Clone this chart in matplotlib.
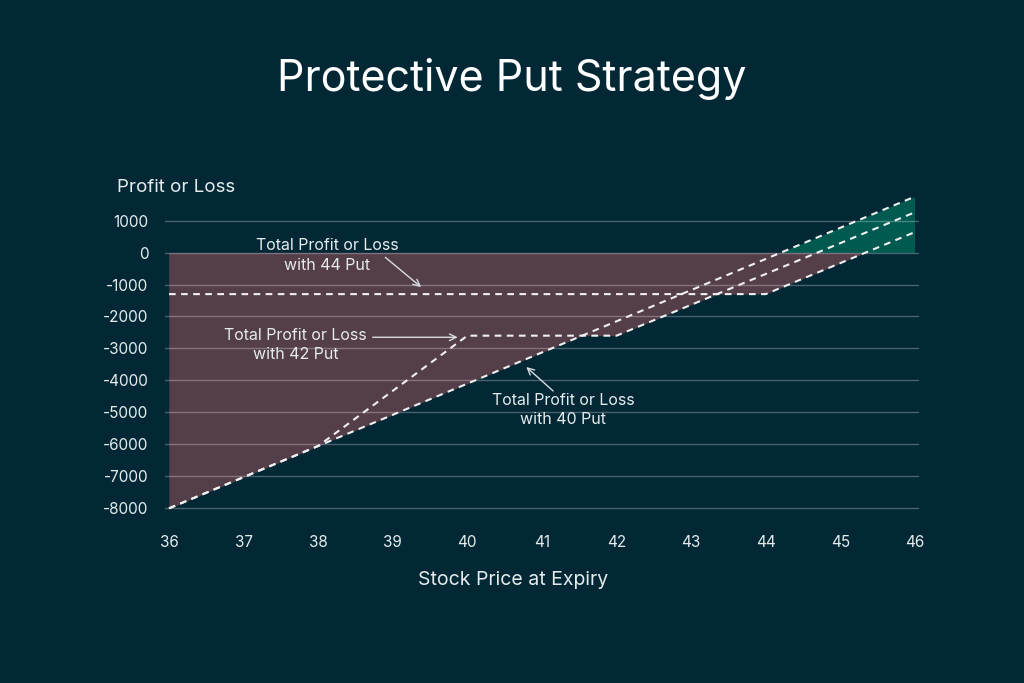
import matplotlib
matplotlib.use("Agg")
import numpy as np
import matplotlib.pyplot as plt

# stock price at expiry
x_40 = [36, 46]
y_40 = [-8000, 1750]
x_42 = [36, 38, 40, 42, 46]
y_42 = [-8000, -6050, -2600, -2600, 1260]
x_44 = [36, 44, 46]
y_44 = [-1300, -1300, 640]

xticks = list(range(36, 47))
yticks = list(range(-8000, 1001, 1000))

BG = "#022835"
LOSS = "#543e4a"
GAIN = "#005a50"
TXT = "#e6ecee"

plt.rcParams["font.family"] = ["Inter", "DejaVu Sans"]
plt.rcParams["axes.unicode_minus"] = False

fig = plt.figure(figsize=(10.24, 6.83), dpi=100, facecolor=BG)
ax = fig.add_axes([0.1614, 0.2534, 0.7357, 0.4611], facecolor=BG)

series = [(x_40, y_40), (x_42, y_42), (x_44, y_44)]
for xs, ys in series:
    xs = np.array(xs, dtype=float)
    ys = np.array(ys, dtype=float)
    ax.fill_between(xs, ys, 0, where=ys <= 0, interpolate=True,
                    color=LOSS, linewidth=0, zorder=1)
    ax.fill_between(xs, 0, ys, where=ys >= 0, interpolate=True,
                    color=GAIN, linewidth=0, zorder=1)

for xs, ys in series:
    ax.plot(xs, ys, color="#f0f0f0", lw=1.5, ls=(0, (3.2, 2.6)), zorder=3)

ax.set_xlim(35.95, 46.05)
ax.set_ylim(-8050, 1800)
ax.set_xticks(xticks)
ax.set_yticks(yticks)
ax.set_axisbelow(False)
ax.grid(axis="y", color="white", alpha=0.28, lw=1.0)
ax.grid(axis="x", visible=False)
for s in ax.spines.values():
    s.set_visible(False)
ax.tick_params(length=0, colors=TXT, labelsize=11)
ax.tick_params(axis="y", pad=12)
ax.tick_params(axis="x", pad=18)

fig.text(0.5, 0.885, "Protective Put Strategy", ha="center", va="center",
         color="white", fontsize=31)
fig.text(117 / 1024, 1 - 187 / 683, "Profit or Loss", ha="left", va="center",
         color=TXT, fontsize=13.5)
fig.text(513 / 1024, 1 - 580 / 683, "Stock Price at Expiry", ha="center",
         va="center", color=TXT, fontsize=14)

arrow = dict(arrowstyle="->", color="#d8dde0", lw=1.0, shrinkA=0, shrinkB=0,
             mutation_scale=12)
ax.text(38.12, -90, "Total Profit or Loss\nwith 44 Put", ha="center",
        va="center", color=TXT, fontsize=11.5, linespacing=1.35, zorder=4)
ax.annotate("", xy=(39.38, -1080), xytext=(38.90, -150), arrowprops=arrow)

ax.text(37.70, -2900, "Total Profit or Loss\nwith 42 Put", ha="center",
        va="center", color=TXT, fontsize=11.5, linespacing=1.35, zorder=4)
ax.annotate("", xy=(39.87, -2650), xytext=(38.73, -2650), arrowprops=arrow)

ax.text(41.28, -4930, "Total Profit or Loss\nwith 40 Put", ha="center",
        va="center", color=TXT, fontsize=11.5, linespacing=1.35, zorder=4)
ax.annotate("", xy=(40.79, -3580), xytext=(41.15, -4330), arrowprops=arrow)

fig.savefig("out.png", dpi=100, facecolor=BG)
